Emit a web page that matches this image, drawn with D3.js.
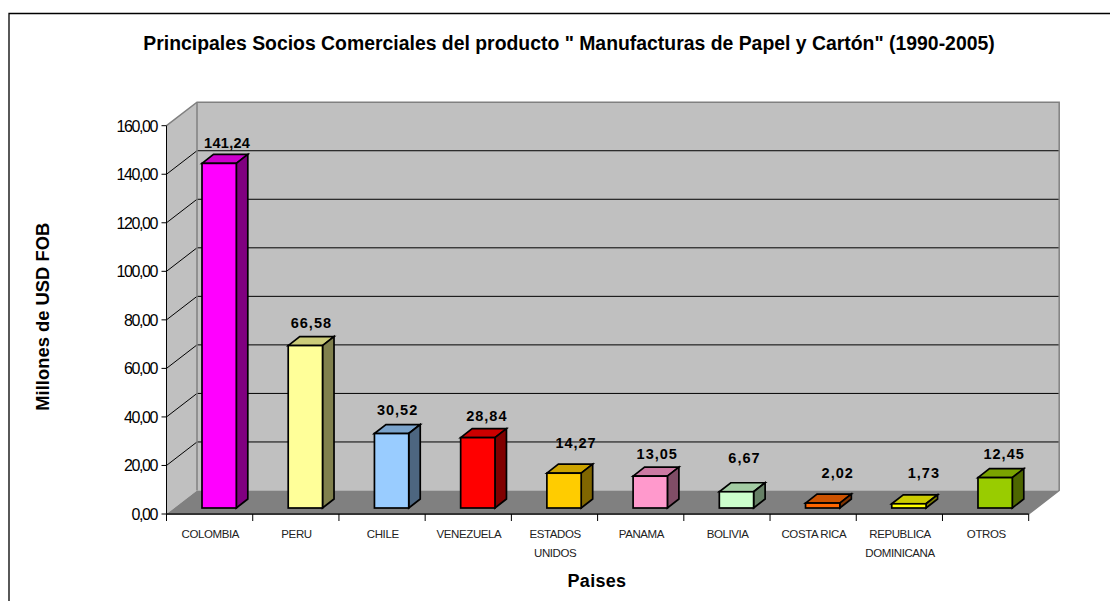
<!DOCTYPE html>
<html><head><meta charset="utf-8">
<script src="https://cdn.jsdelivr.net/npm/d3@7"></script>
<style>html,body{margin:0;padding:0;background:#fff;overflow:hidden}svg{display:block}text{font-family:"Liberation Sans",Arial,sans-serif;fill:#000}</style>
</head><body><svg id="c" width="1110" height="601"></svg>
<script>
const categories = [["COLOMBIA"],["PERU"],["CHILE"],["VENEZUELA"],["ESTADOS","UNIDOS"],["PANAMA"],["BOLIVIA"],["COSTA RICA"],["REPUBLICA","DOMINICANA"],["OTROS"]];
const values = [141.24,66.58,30.52,28.84,14.27,13.05,6.67,2.02,1.73,12.45];
const valueLabels = ["141,24","66,58","30,52","28,84","14,27","13,05","6,67","2,02","1,73","12,45"];
const frontColors = ["#ff00ff","#ffff99","#99ccff","#ff0000","#ffcc00","#ff99cc","#ccffcc","#ff6600","#ffff00","#99cc00"];
const topColors = ["#cc00cc","#cccc7a","#7aa3cc","#cc0000","#cca300","#cc7aa3","#a3cca3","#cc5200","#cccc00","#7aa300"];
const sideColors = ["#800080","#80804d","#4d6680","#800000","#806600","#804d66","#668066","#803300","#808000","#4d6600"];
const yTicks = [0,20,40,60,80,100,120,140,160];
const title = 'Principales Socios Comerciales del producto " Manufacturas de Papel y Cartón" (1990-2005)';
const xTitle = "Paises", yTitle = "Millones de USD FOB";

const svg = d3.select("#c");
const x = d3.scaleBand().domain(d3.range(values.length)).range([166.5,1028.7]).paddingInner(0).paddingOuter(0);
const y = d3.scaleLinear().domain([0,160]).range([514,125.7]);
const yBar = d3.scaleLinear().domain([0,160]).range([508,117.6]);
const wallDX = 30.5, wallDY = -23.5;
const barDX = 11.5, barDY = -9, barOff = 35.5, barW = 34.3;
const poly = pts => pts.map(p=>p.join(",")).join(" ");
const x0 = x.range()[0], x1 = x.range()[1];
// hand placement of the value labels as in the original
const labelShiftX = [0,-2,-2,1,4,-1,0,7,7,1];
const labelLift = [6,8.5,9.5,8,16,8,19.5,16.3,16.3,10];

svg.append("path").attr("d","M9,601V13.5H1110").attr("fill","none").attr("stroke","#000").attr("stroke-width",1.3);

svg.append("polygon").attr("points",poly([[x0,y(0)],[x0,y(160)],[x0+wallDX,y(160)+wallDY],[x0+wallDX,y(0)+wallDY]])).attr("fill","#c0c0c0");
svg.append("polygon").attr("points",poly([[x0+wallDX,y(0)+wallDY],[x0+wallDX,y(160)+wallDY],[x1+wallDX,y(160)+wallDY],[x1+wallDX,y(0)+wallDY]])).attr("fill","#c0c0c0");
svg.append("polygon").attr("points",poly([[x0,y(0)],[x0+wallDX,y(0)+wallDY],[x1+wallDX,y(0)+wallDY],[x1,y(0)]])).attr("fill","#808080");

yTicks.slice(1,-1).forEach(t=>{
  svg.append("path").attr("d",`M${x0},${y(t)}L${x0+wallDX},${y(t)+wallDY}H${x1+wallDX}`).attr("fill","none").attr("stroke","#000").attr("stroke-width",1);
});
svg.append("path").attr("d",`M${x0},${y(160)}L${x0+wallDX},${y(160)+wallDY}H${x1+wallDX}V${y(0)+wallDY}L${x1},${y(0)}`).attr("fill","none").attr("stroke","#808080").attr("stroke-width",1.5);
svg.append("path").attr("d",`M${x0+wallDX},${y(160)+wallDY}V${y(0)+wallDY}`).attr("fill","none").attr("stroke","#808080").attr("stroke-width",1.5);

svg.append("path").attr("d",`M${x0},${y(160)}V${y(0)}`).attr("stroke","#000").attr("stroke-width",1);
svg.append("path").attr("d",`M${x0},${y(0)}H${x1}`).attr("stroke","#333").attr("stroke-width",2);
yTicks.forEach(t=>{
  svg.append("path").attr("d",`M${x0-5},${y(t)}H${x0}`).attr("stroke","#000").attr("stroke-width",1);
  svg.append("text").attr("x",x0-9.5).attr("y",y(t)+5.8).attr("text-anchor","end").attr("font-size",16).attr("letter-spacing",-1.4).text(d3.format(".2f")(t).replace(".",","));
});
[...d3.range(values.length).map(i=>x(i)),x1].forEach(v=>{
  svg.append("path").attr("d",`M${v},${y(0)}V${y(0)+7}`).attr("stroke","#000").attr("stroke-width",1);
});

values.forEach((v,i)=>{
  const l = x(i)+barOff, r = l+barW, b = yBar(0), t = yBar(v);
  const g = svg.append("g").attr("stroke","#000").attr("stroke-width",1.7).attr("stroke-linejoin","miter");
  g.append("polygon").attr("points",poly([[l,t],[l+barDX,t+barDY],[r+barDX,t+barDY],[r,t]])).attr("fill",topColors[i]);
  g.append("polygon").attr("points",poly([[r,t],[r+barDX,t+barDY],[r+barDX,b+barDY],[r,b]])).attr("fill",sideColors[i]);
  g.append("rect").attr("x",l).attr("y",t).attr("width",barW).attr("height",b-t).attr("fill",frontColors[i]);
  svg.append("text").attr("x",l+barW/2+8+labelShiftX[i]).attr("y",t+barDY-labelLift[i]).attr("text-anchor","middle").attr("font-size",14.5).attr("font-weight","bold").attr("letter-spacing",i==0?0.3:1).text(valueLabels[i]);
  categories[i].forEach((s,j)=>{
    svg.append("text").attr("x",x(i)+x.bandwidth()/2+0.7).attr("y",538.3+j*19).attr("text-anchor","middle").attr("font-size",11.5).attr("letter-spacing",-0.4).style("fill","#222").text(s);
  });
});

svg.append("text").attr("x",569).attr("y",50).attr("text-anchor","middle").attr("font-size",19.4).attr("font-weight","bold").text(title);
svg.append("text").attr("x",597).attr("y",587.3).attr("text-anchor","middle").attr("font-size",18).attr("font-weight","bold").attr("letter-spacing",0.3).text(xTitle);
svg.append("text").attr("transform","translate(49,316.7) rotate(-90)").attr("text-anchor","middle").attr("font-size",18.4).attr("font-weight","bold").text(yTitle);
</script></body></html>
